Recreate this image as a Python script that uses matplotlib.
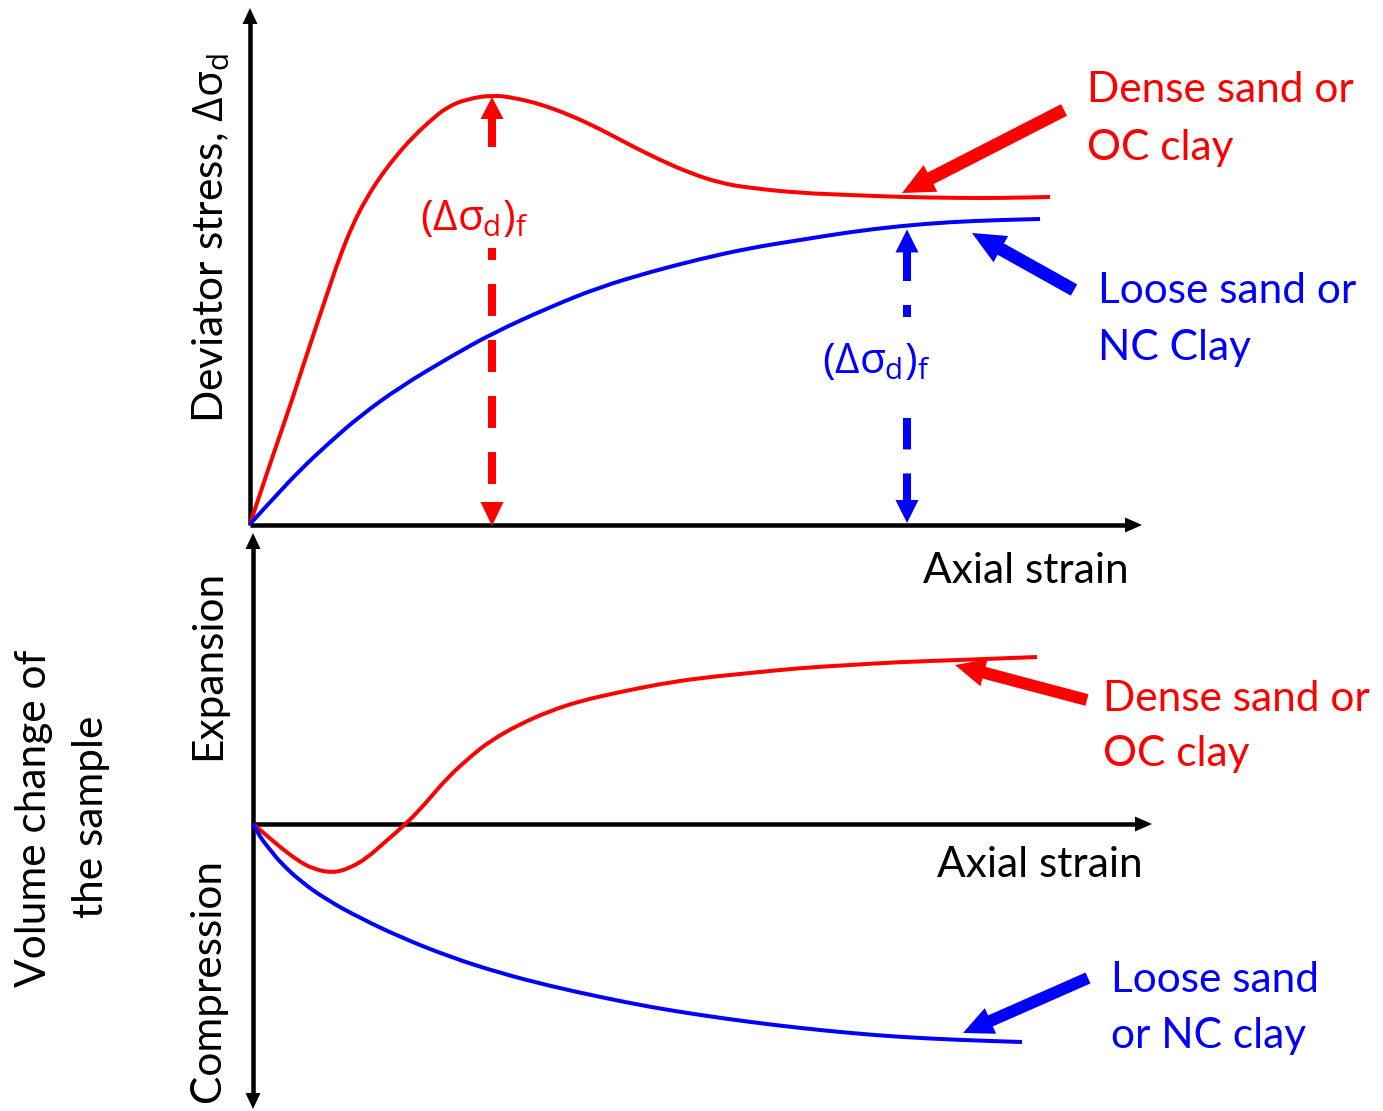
import numpy as np
import matplotlib.pyplot as plt
from matplotlib.path import Path
from matplotlib.patches import PathPatch

plt.rcParams['font.family'] = ['Lato', 'DejaVu Sans']
plt.rcParams['mathtext.fontset'] = 'custom'
plt.rcParams['mathtext.rm'] = 'Open Sans'
plt.rcParams['mathtext.it'] = 'Open Sans'
plt.rcParams['lines.scale_dashes'] = False

RED = '#ff0000'
BLUE = '#0000ff'
FS = 30.5
PX = 0.72  # points per pixel at dpi=100

# curves in pixel units (x right, y down)
dense_q_x = [250, 258, 268, 280, 292, 305, 325, 340, 353, 366, 380, 396, 413, 430, 447,
             467, 493, 515, 540, 570, 600, 630, 660, 690, 720, 750, 800, 850, 900, 960, 1000, 1050]
dense_q_y = [524, 500, 470, 435, 400, 360, 300, 256, 224, 199, 177, 156, 137, 121, 107,
             99, 95, 98, 104, 115, 129, 145, 160, 173, 183, 188, 193, 195, 197, 198, 198, 197]
loose_q_x = [250, 272, 300, 330, 360, 400, 450, 493, 550, 600, 650, 700, 750, 800, 850,
             900, 950, 1000, 1040]
loose_q_y = [524, 500, 470, 442, 416, 387, 357, 333, 307, 287, 272, 259, 248, 240, 232,
             226, 222, 220, 219]
dense_v_x = [253, 265, 280, 297, 313, 333, 350, 367, 385, 407, 425, 447, 470, 490, 520,
             550, 580, 620, 660, 700, 750, 800, 850, 900, 960, 1037]
dense_v_y = [824, 834, 847, 860, 869, 873, 868, 858, 842, 823, 804, 778, 757, 741, 724,
             711, 701, 692, 684, 678, 673, 668, 665, 662, 660, 657]
loose_v_x = [253, 258, 263, 272, 280, 300, 327, 360, 400, 450, 500, 550, 600, 650, 700,
             750, 800, 850, 900, 960, 1022]
loose_v_y = [824, 833, 841, 852, 862, 881, 900, 918, 937, 957, 973, 986, 997, 1007, 1015,
             1022, 1028, 1033, 1037, 1040, 1042]

# axes frames (pixel units)
top_origin = (250, 525)
top_y_tip = 8
top_x_tip = 1142
bot_origin = (253, 824)
bot_y_tips = (533, 1109)
bot_x_tip = 1152

loose_fail_x = 907

fig = plt.figure(figsize=(13.83, 11.11), dpi=100)
ax = fig.add_axes([0, 0, 1, 1])
ax.set_xlim(0, 1383)
ax.set_ylim(1111, 0)
ax.axis('off')


def head(tip, base_dir, length, width, color):
    tip = np.array(tip, float)
    d = np.array(base_dir, float)
    d = d / np.hypot(*d)
    base = tip - d * length
    p = np.array([-d[1], d[0]]) * width / 2
    pts = np.array([tip, base + p, base - p])
    ax.fill(pts[:, 0], pts[:, 1], color=color, lw=0, zorder=5)
    return base


def arrow(tail, tip, lw_px, hl, hw, color):
    tail = np.array(tail, float)
    tip = np.array(tip, float)
    base = head(tip, tip - tail, hl, hw, color)
    d = (tip - tail) / np.hypot(*(tip - tail))
    end = base + d * 3
    ax.plot([tail[0], end[0]], [tail[1], end[1]], color=color, lw=lw_px * PX,
            solid_capstyle='butt', zorder=4)


def dashed_v(x, y0, y1, gap, color, on=32, off=24, lw_px=8):
    period = on + off
    for a, b in [(y0, gap[0]), (gap[1], y1)]:
        offs = ((a - y0) % period) * PX
        ax.plot([x, x], [a, b], color=color, lw=lw_px * PX,
                linestyle=(offs, (on * PX, off * PX)), dash_capstyle='butt', zorder=4)


def smooth_curve(xs, ys, color, lw):
    # quadratic bezier through the midpoints, read points act as control points
    pts = np.column_stack([xs, ys]).astype(float)
    verts = [pts[0]]
    codes = [Path.MOVETO]
    for i in range(1, len(pts) - 1):
        verts += [pts[i], (pts[i] + pts[i + 1]) / 2]
        codes += [Path.CURVE3, Path.CURVE3]
    verts.append(pts[-1])
    codes.append(Path.LINETO)
    ax.add_patch(PathPatch(Path(verts, codes), fill=False, edgecolor=color, lw=lw,
                           capstyle='butt', joinstyle='round', zorder=3))


# axes
AX_LW = 4.5 * PX
ox, oy = top_origin
ax.plot([ox, ox], [oy, top_y_tip + 14], color='k', lw=AX_LW, solid_capstyle='butt')
head((ox, top_y_tip), (0, -1), 16, 15, 'k')
ax.plot([ox, top_x_tip - 14], [oy, oy], color='k', lw=AX_LW, solid_capstyle='butt')
head((top_x_tip, oy), (1, 0), 17, 15, 'k')

bx, by = bot_origin
ax.plot([bx, bx], [bot_y_tips[0] + 14, bot_y_tips[1] - 14], color='k', lw=AX_LW,
        solid_capstyle='butt')
head((bx, bot_y_tips[0]), (0, -1), 16, 15, 'k')
head((bx, bot_y_tips[1]), (0, 1), 16, 15, 'k')
ax.plot([bx, bot_x_tip - 14], [by, by], color='k', lw=AX_LW, solid_capstyle='butt')
head((bot_x_tip, by), (1, 0), 17, 15, 'k')

# curves
CLW = 4 * PX
smooth_curve(dense_q_x, dense_q_y, RED, CLW)
smooth_curve(loose_q_x, loose_q_y, BLUE, CLW)
smooth_curve(dense_v_x, dense_v_y, RED, CLW)
smooth_curve(loose_v_x, loose_v_y, BLUE, CLW)

# failure stress markers
i_pk = int(np.argmin(dense_q_y))
pk_x, pk_y = dense_q_x[i_pk] - 1, dense_q_y[i_pk] + 2
b_up = head((pk_x, pk_y), (0, -1), 22, 23, RED)
b_dn = head((pk_x, oy + 1), (0, 1), 24, 23, RED)
dashed_v(pk_x, b_up[1] - 3, b_dn[1], (147, 248), RED)
ax.text(420, 230, r'$(\Delta\sigma_{d})_{f}$', color=RED, fontsize=FS,
        ha='left', va='baseline')

lf_y = np.interp(loose_fail_x, loose_q_x, loose_q_y) + 4
b_up = head((loose_fail_x, lf_y), (0, -1), 23, 23, BLUE)
b_dn = head((loose_fail_x, oy - 2), (0, 1), 23, 23, BLUE)
dashed_v(loose_fail_x, b_up[1] - 3, b_dn[1] + 2, (317, 418), BLUE)
ax.text(822, 373, r'$(\Delta\sigma_{d})_{f}$', color=BLUE, fontsize=FS,
        ha='left', va='baseline')

# pointer arrows
arrow((1064, 110), (902, 193), 13, 32, 30, RED)
arrow((1074, 290), (972, 233), 13, 33, 30, BLUE)
arrow((1087, 700), (955, 665), 12, 30, 28, RED)
arrow((1088, 978), (963, 1033), 12, 30, 28, BLUE)


# labels
def label(x, y, s, color='k'):
    ax.text(x, y, s, color=color, fontsize=FS, ha='left', va='baseline')


label(1087, 102, 'Dense sand or', RED)
label(1087, 160, 'OC clay', RED)
label(1098, 303, 'Loose sand or', BLUE)
label(1098, 360, 'NC Clay', BLUE)
label(923, 583, 'Axial strain')
label(1103, 711, 'Dense sand or', RED)
label(1103, 766, 'OC clay', RED)
label(937, 877, 'Axial strain')
label(1111, 992, 'Loose sand', BLUE)
label(1111, 1048, 'or NC clay', BLUE)


def vlabel(x, y, s):
    ax.text(x, y, s, fontsize=FS, rotation=90, rotation_mode='anchor',
            ha='center', va='baseline')


vlabel(223, 238, r'Deviator stress, $\Delta\sigma_{d}$')
vlabel(220, 665, 'Expansion')
vlabel(220, 981, 'Compression')
vlabel(46, 818, 'Volume change of')
vlabel(103, 817, 'the sample')

fig.savefig('out.png', dpi=100)
